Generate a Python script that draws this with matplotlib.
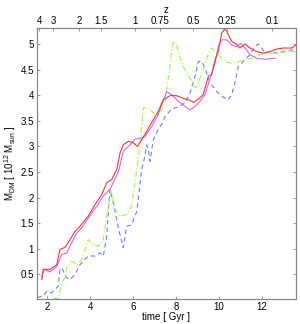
import matplotlib
matplotlib.use("Agg")
import matplotlib.pyplot as plt

plt.rcParams['font.family'] = ['Liberation Sans', 'DejaVu Sans']
plt.rcParams['mathtext.fontset'] = 'custom'
plt.rcParams['mathtext.rm'] = 'Liberation Sans'
plt.rcParams['mathtext.it'] = 'Liberation Sans'

# dark matter mass growth of four haloes, time in Gyr, mass in 1e12 Msun
t_red = [1.74, 1.81, 2.13, 2.44, 2.59, 2.83, 3.06, 3.29, 3.52, 3.91, 4.22, 4.54, 4.77, 5.00,
         5.24, 5.39, 5.54, 5.78, 6.01, 6.20, 6.40, 6.63, 6.94, 7.17, 7.41, 7.72, 8.03, 8.34,
         8.65, 8.81, 9.04, 9.27, 9.51, 9.66, 9.82, 9.97, 10.13, 10.29, 10.44, 10.60, 10.80,
         10.98, 11.22, 11.45, 11.76, 12.07, 12.38, 12.69, 13.00, 13.40, 13.58]
m_red = [0.40, 0.60, 0.60, 0.69, 0.99, 1.03, 1.18, 1.34, 1.44, 1.64, 1.86, 2.06, 2.29, 2.35,
         2.55, 2.87, 3.03, 3.10, 3.07, 3.00, 3.13, 3.29, 3.52, 3.68, 3.91, 3.99, 3.99, 3.94,
         3.90, 3.86, 3.92, 4.01, 4.37, 4.40, 4.69, 4.85, 5.21, 5.30, 5.18, 5.05, 5.00,
         4.92, 5.00, 4.92, 4.85, 4.82, 4.85, 4.90, 4.92, 4.92, 4.98]

t_violet = [1.74, 1.85, 2.13, 2.44, 2.67, 2.90, 3.14, 3.37, 3.60, 3.91, 4.30, 4.61, 4.92, 5.31,
            5.54, 5.86, 6.09, 6.32, 6.55, 6.87, 7.17, 7.41, 7.57, 7.80, 8.11, 8.34, 8.65, 8.89,
            9.12, 9.35, 9.59, 9.82, 9.97, 10.13, 10.36, 10.60, 10.83, 11.02, 11.22, 11.45,
            11.76, 12.15, 12.62]
m_violet = [0.44, 0.60, 0.55, 0.66, 0.89, 0.92, 1.12, 1.31, 1.41, 1.60, 1.83, 2.03, 2.16, 2.50,
            2.90, 3.03, 3.14, 3.16, 3.19, 3.39, 3.62, 3.90, 4.07, 4.01, 3.88, 3.81, 3.71, 3.78,
            3.88, 4.01, 4.33, 4.62, 4.95, 5.08, 5.08, 4.98, 4.95, 5.01, 4.92, 4.79,
            4.72, 4.70, 4.72]

t_green = [2.28, 2.51, 2.59, 2.67, 2.83, 2.90, 3.14, 3.37, 3.60, 3.91, 4.14, 4.38, 4.61, 4.77,
           4.92, 5.00, 5.16, 5.39, 5.70, 5.93, 6.09, 6.17, 6.28, 6.48, 6.71, 7.02, 7.33, 7.49,
           7.64, 7.87, 8.03, 8.27, 8.50, 8.73, 8.93, 9.12, 9.27, 9.51, 9.66, 9.82, 10.13,
           10.36, 10.67, 10.98, 11.30, 11.60, 11.92, 12.23, 12.69, 13.16, 13.58]
m_green = [0.03, 0.03, 0.17, 0.34, 0.44, 0.63, 0.76, 0.69, 0.79, 1.18, 1.08, 1.05, 1.18, 1.64,
           2.03, 2.12, 1.77, 1.64, 1.67, 1.83, 2.29, 2.55, 2.90, 3.75, 3.75, 3.62, 3.71, 3.88,
           4.33, 5.05, 4.98, 4.62, 4.43, 4.27, 4.14, 4.33, 4.49, 4.82, 4.92, 4.85, 4.72,
           4.64, 4.62, 4.66, 4.70, 4.72, 4.79, 4.82, 4.82, 4.85, 4.85]

t_blue = [1.53, 1.81, 1.97, 2.21, 2.36, 2.51, 2.59, 2.67, 2.90, 3.06, 3.29, 3.52, 3.68, 3.91,
          4.22, 4.46, 4.61, 4.77, 4.92, 5.08, 5.31, 5.54, 5.70, 5.93, 6.17, 6.40, 6.55, 6.63,
          6.71, 6.79, 6.94, 7.17, 7.41, 7.49, 7.80, 8.11, 8.42, 8.65, 8.89, 9.04, 9.20, 9.35,
          9.59, 9.90, 10.21, 10.44, 10.60, 10.75, 10.90, 11.14, 11.45, 11.68, 11.84, 12.00,
          12.15, 12.38, 12.69, 13.00, 13.32, 13.58]
m_blue = [0.05, 0.08, 0.17, 0.14, 0.21, 0.27, 0.60, 0.63, 0.44, 0.40, 0.50, 0.69, 0.76, 0.86,
          0.86, 0.92, 0.86, 1.25, 2.16, 1.90, 1.41, 1.02, 1.44, 1.47, 1.73, 2.55, 2.81, 3.03,
          2.94, 2.71, 3.13, 3.33, 3.49, 3.58, 3.73, 3.77, 3.85, 4.04, 4.37, 4.66, 4.66, 4.53,
          4.24, 4.07, 3.96, 3.91, 4.01, 4.24, 4.56, 4.66, 4.79, 4.95, 5.00, 4.92,
          4.82, 4.85, 4.82, 4.85, 4.88, 4.88]

# redshift ticks on the top axis and the cosmic time they sit at
z_labels = ['4', '3', '2', '1.5', '1', '0.75', '0.5', '0.25', '0.1']
z_times = [1.63, 2.28, 3.49, 4.50, 6.09, 7.25, 8.81, 10.39, 12.48]

fig = plt.figure(figsize=(3.0, 3.24), dpi=100)
ax = fig.add_axes([0.122, 0.077, 0.865, 0.838])

ax.plot(t_blue, m_blue, color='#6680ff', lw=0.8, ls=(0, (4, 3)))
ax.plot(t_green, m_green, color='#99ff33', lw=0.8, ls=(0, (5, 2, 1, 2)))
ax.plot(t_violet, m_violet, color='#cc66ff', lw=0.8)
ax.plot(t_red, m_red, color='#ff3333', lw=0.8)

ax.set_xlim(1.5, 13.6)
ax.set_ylim(0.02, 5.32)
ax.set_xticks([2, 4, 6, 8, 10, 12])
ax.set_yticks([0.5, 1, 1.5, 2, 2.5, 3, 3.5, 4, 4.5, 5])
ax.set_yticklabels(['0.5', '1', '1.5', '2', '2.5', '3', '3.5', '4', '4.5', '5'])
ax.tick_params(direction='in', length=2.5, width=0.6, color='#888888', labelsize=7,
               right=True, pad=2)
for s in ax.spines.values():
    s.set_color('#888888')
    s.set_linewidth(0.8)

ax.set_xlabel('time [ Gyr ]', fontsize=7, labelpad=0)
ax.set_ylabel('M$_{\\rm DM}$ [ 10$^{12}$ M$_{\\rm sun}$ ]', fontsize=7, labelpad=2)

top = ax.twiny()
top.set_xlim(ax.get_xlim())
top.set_xticks(z_times)
top.set_xticklabels(z_labels)
top.tick_params(direction='in', length=2.5, width=0.6, color='#888888', labelsize=7, pad=1)
top.set_xlabel('z', fontsize=7, labelpad=2)
for s in top.spines.values():
    s.set_color('#888888')
    s.set_linewidth(0.8)

fig.savefig('out.png', dpi=100)
